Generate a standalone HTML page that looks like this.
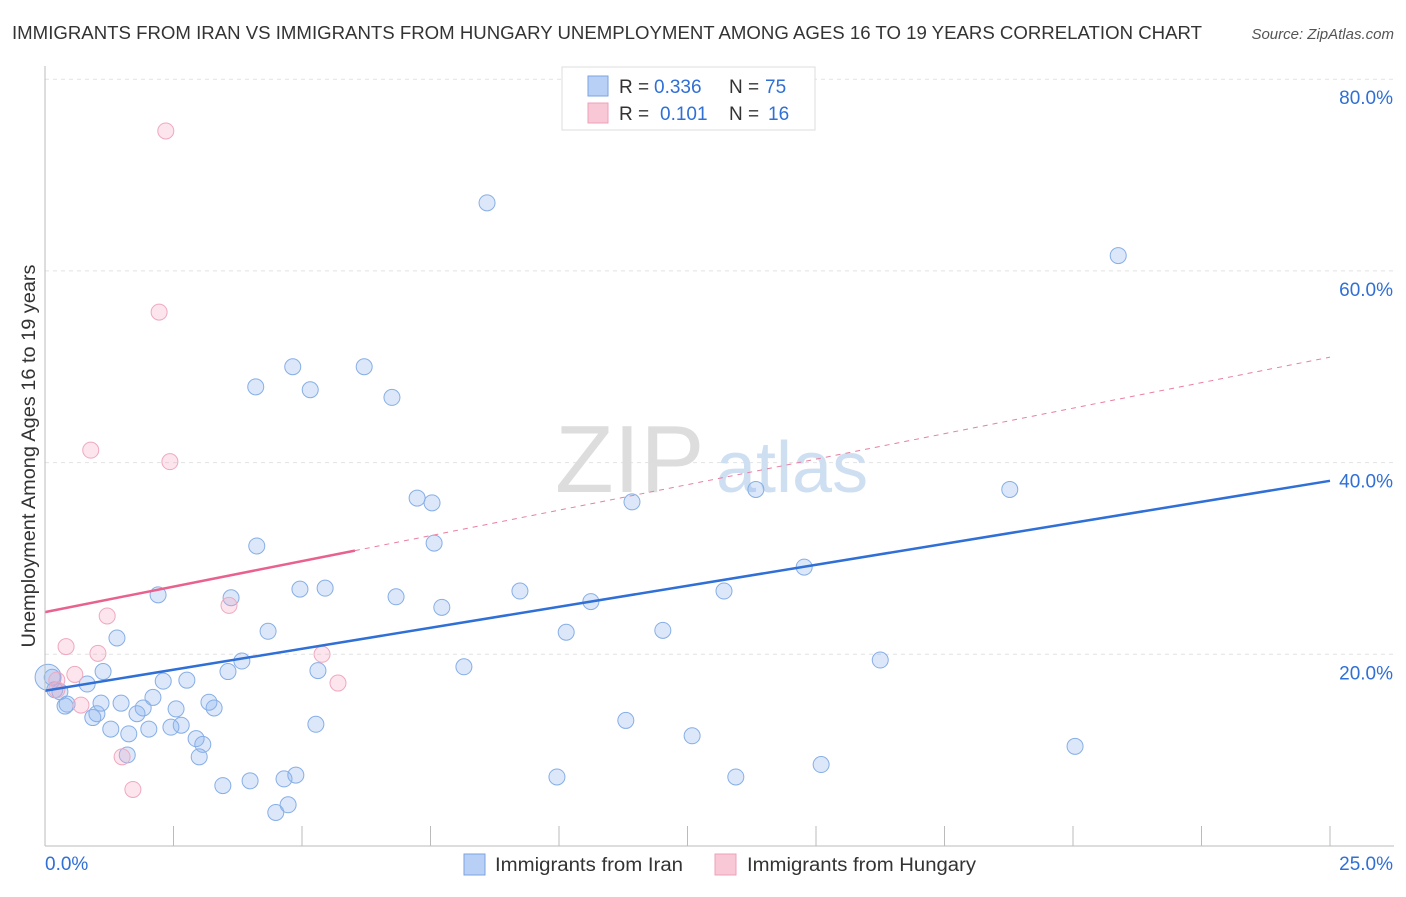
<!DOCTYPE html>
<html><head><meta charset="utf-8"><style>
body{margin:0;background:#fff;font-family:"Liberation Sans",sans-serif;}
svg text{font-family:"Liberation Sans",sans-serif;}
</style></head><body>
<svg id="chart" width="1406" height="892" xmlns="http://www.w3.org/2000/svg">
<text x="12" y="39" font-size="18" fill="#333" textLength="1190" lengthAdjust="spacingAndGlyphs">IMMIGRANTS FROM IRAN VS IMMIGRANTS FROM HUNGARY UNEMPLOYMENT AMONG AGES 16 TO 19 YEARS CORRELATION CHART</text>
<text x="1394" y="39" font-size="15" fill="#555" font-style="italic" text-anchor="end">Source: ZipAtlas.com</text>
<g id="grid"></g>
<g id="wm">
<text x="555" y="492" font-size="96" fill="#ddd" font-family="Liberation Serif,serif">ZIP</text>
<text x="716" y="492" font-size="72" fill="#cfdff2">atlas</text>
</g>
<g id="marks"></g>
<g id="axes"></g>
<text x="35" y="456" font-size="19" fill="#333" text-anchor="middle" textLength="383" lengthAdjust="spacingAndGlyphs" transform="rotate(-90 35 456)">Unemployment Among Ages 16 to 19 years</text>
<g>
<rect x="562" y="67" width="253" height="63" fill="#fff" stroke="#ddd"/>
<rect x="588" y="76" width="20" height="20" fill="#b8d0f5" stroke="#7aa3e0"/>
<text y="93" font-size="19" fill="#333"><tspan x="619">R =</tspan><tspan x="654" fill="#2f6fd6">0.336</tspan><tspan x="729">N =</tspan><tspan x="765" fill="#2f6fd6">75</tspan></text>
<rect x="588" y="103" width="20" height="20" fill="#f8c8d6" stroke="#eea0b8"/>
<text y="120" font-size="19" fill="#333"><tspan x="619">R =</tspan><tspan x="660" fill="#2f6fd6">0.101</tspan><tspan x="729">N =</tspan><tspan x="768" fill="#2f6fd6">16</tspan></text>
</g>
<g>
<rect x="464" y="854" width="21" height="21" fill="#b8d0f5" stroke="#7aa3e0"/>
<text x="495" y="871" font-size="19" fill="#333" textLength="188" lengthAdjust="spacingAndGlyphs">Immigrants from Iran</text>
<rect x="715" y="854" width="21" height="21" fill="#f8c8d6" stroke="#eea0b8"/>
<text x="747" y="871" font-size="19" fill="#333" textLength="229" lengthAdjust="spacingAndGlyphs">Immigrants from Hungary</text>
</g>
</svg>
<script>
const yTicks=[20,40,60,80];
const yTickLabels=["20.0%","40.0%","60.0%","80.0%"];
const xTickCount=10;
const iranX=[8.60,20.88,4.82,6.21,4.10,5.16,6.75,7.24,7.53,11.42,13.83,18.77,4.12,7.57,14.77,2.20,3.62,4.96,5.45,6.83,9.24,10.62,7.72,1.40,4.34,10.14,12.02,13.21,16.25,3.83,3.56,1.13,8.15,5.31,0.14,0.82,2.30,2.76,2.10,1.48,3.19,0.29,0.43,1.09,1.91,2.55,3.29,1.79,1.01,0.93,0.39,2.65,2.45,1.28,2.02,1.63,5.27,11.30,2.94,3.07,12.59,20.04,1.60,3.00,3.99,3.46,4.65,4.88,9.96,13.44,15.10,4.73,4.49,0.06,0.19];
const iranY=[67.1,61.6,50.0,50.0,47.9,47.6,46.8,36.3,35.8,35.9,37.2,37.2,31.3,31.6,29.1,26.2,25.9,26.8,26.9,26.0,26.6,25.5,24.9,21.7,22.4,22.3,22.5,26.6,19.4,19.3,18.2,18.2,18.7,18.3,17.6,16.9,17.2,17.3,15.5,14.9,15.0,16.1,14.8,14.9,14.4,14.3,14.4,13.8,13.8,13.4,14.6,12.6,12.4,12.2,12.2,11.7,12.7,13.1,11.2,10.6,11.5,10.4,9.5,9.3,6.8,6.3,7.0,7.4,7.2,7.2,8.5,4.3,3.5,17.6,16.3];
const hunX=[2.35,2.22,0.89,2.43,3.58,1.21,0.41,1.03,5.39,0.58,5.70,0.23,0.23,0.70,1.50,1.71];
const hunY=[74.6,55.7,41.3,40.1,25.1,24.0,20.8,20.1,20.0,17.9,17.0,17.3,16.3,14.7,9.3,5.9];
const iranLine=[16.2,38.1];
const hunLine=[24.4,51.0];
const hunSolidEnd=6.03;

const NS="http://www.w3.org/2000/svg";
const xs=v=>45+v*(1285/25);
const ys=v=>846-v*9.585;
function mk(tag,attrs,parent){const e=document.createElementNS(NS,tag);for(const k in attrs)e.setAttribute(k,attrs[k]);parent.appendChild(e);return e;}
const grid=document.getElementById('grid'),axes=document.getElementById('axes'),marks=document.getElementById('marks');
yTicks.forEach((t,i)=>{
 const l=mk('line',{x1:45,x2:1394,y1:ys(t),y2:ys(t),stroke:'#e2e2e2','stroke-dasharray':'4,4'},grid);
 
 
 const tx=mk('text',{x:1393,y:ys(t)+25,'font-size':19,fill:'#2f6fd6','text-anchor':'end'},axes);
 tx.textContent=yTickLabels[i];
 
 
});
const xa=mk('line',{x1:45,x2:1394,y1:846,y2:846,stroke:'#bbb'},axes);


const ya=mk('line',{x1:45,x2:45,y1:66,y2:846,stroke:'#bbb'},axes);


for(let i=1;i<=xTickCount;i++){
 const v=i*25/xTickCount;
 const t=mk('line',{x1:xs(v),x2:xs(v),y1:826,y2:846,stroke:'#bbb'},axes);
 
 
}
const x0=mk('text',{x:45,y:870,'font-size':19,fill:'#2f6fd6'},axes);x0.textContent="0.0%";


const x1=mk('text',{x:1393,y:870,'font-size':19,fill:'#2f6fd6','text-anchor':'end'},axes);x1.textContent="25.0%";



iranX.forEach((x,i)=>{
 const r=(i===iranX.length-2)?13:8;
 const c=mk('circle',{cx:xs(x),cy:ys(iranY[i]),r:r,fill:'rgba(140,180,240,0.3)',stroke:'#86aee6','stroke-width':1},marks);
 
 
});
hunX.forEach((x,i)=>{
 const c=mk('circle',{cx:xs(x),cy:ys(hunY[i]),r:8,fill:'rgba(245,170,195,0.3)',stroke:'#f0a8bf','stroke-width':1},marks);
 
 
});
const hy=x=>hunLine[0]+(hunLine[1]-hunLine[0])*x/25;
const hd=mk('line',{x1:xs(hunSolidEnd),y1:ys(hy(hunSolidEnd)),x2:xs(25),y2:ys(hunLine[1]),stroke:'#e87fa0','stroke-width':1,'stroke-dasharray':'5,5'},marks);


const hs=mk('line',{x1:xs(0),y1:ys(hunLine[0]),x2:xs(hunSolidEnd),y2:ys(hy(hunSolidEnd)),stroke:'#e8628d','stroke-width':2.5},marks);


const il=mk('line',{x1:xs(0),y1:ys(iranLine[0]),x2:xs(25),y2:ys(iranLine[1]),stroke:'#2f6fd6','stroke-width':2.5},marks);


</script>
</body></html>
